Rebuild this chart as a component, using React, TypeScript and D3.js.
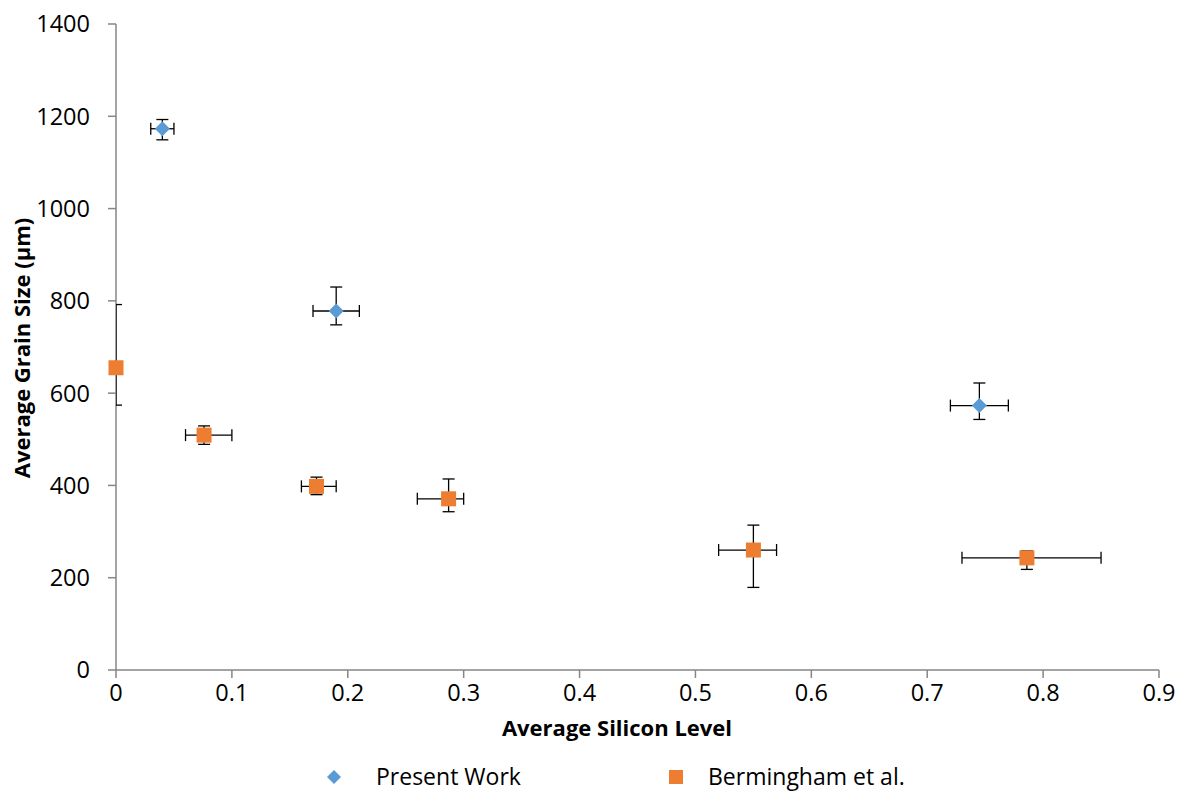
import React from 'react';
import * as d3 from 'd3';

// Present Work
const presentX = [0.04, 0.19, 0.745];
const presentY = [1173, 778, 573];
const presentXErr = [0.01, 0.02, 0.025];
const presentYHi = [1193, 830, 622];
const presentYLo = [1149, 748, 543];

// Bermingham et al.
const bermX = [0, 0.076, 0.173, 0.287, 0.55, 0.786];
const bermY = [655, 509, 398, 371, 260, 243];
const bermXLo = [0, 0.06, 0.16, 0.26, 0.52, 0.73];
const bermXHi = [0, 0.1, 0.19, 0.3, 0.57, 0.85];
const bermYHi = [792, 529, 418, 414, 314, 258];
const bermYLo = [574, 489, 380, 343, 179, 218];

const xTicks = [0, 0.1, 0.2, 0.3, 0.4, 0.5, 0.6, 0.7, 0.8, 0.9];
const yTicks = [0, 200, 400, 600, 800, 1000, 1200, 1400];

const W = 1184;
const H = 791;
const left = 116;
const right = 1159;
const top = 24;
const bottom = 670;
const font = "'Open Sans', sans-serif";

const App = () => {
  const x = d3.scaleLinear().domain([0, 0.9]).range([left, right]);
  const y = d3.scaleLinear().domain([0, 1400]).range([bottom, top]);
  const cap = 6;

  const errBar = (cx, cy, x0, x1, y0, y1, key) => (
    <g key={key} stroke="#000" strokeWidth={1.3}>
      {x1 > x0 && (
        <g>
          <line x1={x(x0)} x2={x(x1)} y1={y(cy)} y2={y(cy)} />
          <line x1={x(x0)} x2={x(x0)} y1={y(cy) - cap} y2={y(cy) + cap} />
          <line x1={x(x1)} x2={x(x1)} y1={y(cy) - cap} y2={y(cy) + cap} />
        </g>
      )}
      <line x1={x(cx)} x2={x(cx)} y1={y(y0)} y2={y(y1)} />
      <line x1={x(cx) - cap} x2={x(cx) + cap} y1={y(y0)} y2={y(y0)} />
      <line x1={x(cx) - cap} x2={x(cx) + cap} y1={y(y1)} y2={y(y1)} />
    </g>
  );

  const diamond = (cx, cy, r) => `M${cx},${cy - r}L${cx + r},${cy}L${cx},${cy + r}L${cx - r},${cy}Z`;

  return (
    <svg width={W} height={H} style={{ position: 'absolute', left: 0, top: 0, background: '#fff' }}>
      <defs>
        <clipPath id="plot">
          <rect x={left} y={0} width={right - left + 10} height={bottom + 5} />
        </clipPath>
      </defs>
      <rect width={W} height={H} fill="#fff" />

      {/* axes */}
      <g stroke="#868686" strokeWidth={1.5}>
        <line x1={left} x2={left} y1={top} y2={bottom} />
        <line x1={left} x2={right} y1={bottom} y2={bottom} />
        {yTicks.map((t) => (
          <line key={'yt' + t} x1={left - 8} x2={left} y1={y(t)} y2={y(t)} />
        ))}
        {xTicks.map((t) => (
          <line key={'xt' + t} x1={x(t)} x2={x(t)} y1={bottom} y2={bottom + 8} />
        ))}
      </g>
      <g fontFamily={font} fontSize={23.5} fill="#000">
        {yTicks.map((t) => (
          <text key={'yl' + t} x={left - 26} y={y(t)} dy="0.36em" textAnchor="end">{t}</text>
        ))}
        {xTicks.map((t) => (
          <text key={'xl' + t} x={x(t)} y={bottom + 31} textAnchor="middle">{t}</text>
        ))}
      </g>
      <text x={617} y={736} textAnchor="middle" fontFamily={font} fontSize={22} fontWeight="bold">Average Silicon Level</text>
      <text transform={`translate(30,348) rotate(-90)`} textAnchor="middle" fontFamily={font} fontSize={22} fontWeight="bold">Average Grain Size (µm)</text>

      {/* error bars */}
      <g clipPath="url(#plot)">
        {presentX.map((v, i) =>
          errBar(v, presentY[i], v - presentXErr[i], v + presentXErr[i], presentYHi[i], presentYLo[i], 'pe' + i))}
        {bermX.map((v, i) => errBar(v, bermY[i], bermXLo[i], bermXHi[i], bermYHi[i], bermYLo[i], 'be' + i))}
      </g>

      {/* markers */}
      {presentX.map((v, i) => (
        <path key={'pm' + i} d={diamond(x(v), y(presentY[i]), 7.5)} fill="#5B9BD5" />
      ))}
      {bermX.map((v, i) => (
        <rect key={'bm' + i} x={x(v) - 7.5} y={y(bermY[i]) - 7.5} width={15} height={15} fill="#ED7D31" />
      ))}

      {/* legend */}
      <path d={diamond(334, 777, 7)} fill="#5B9BD5" />
      <text x={376} y={777} dy="0.36em" fontFamily={font} fontSize={23}>Present Work</text>
      <rect x={669} y={770} width={14} height={14} fill="#ED7D31" />
      <text x={708} y={777} dy="0.36em" fontFamily={font} fontSize={23}>Bermingham et al.</text>
    </svg>
  );
};

export default App;
